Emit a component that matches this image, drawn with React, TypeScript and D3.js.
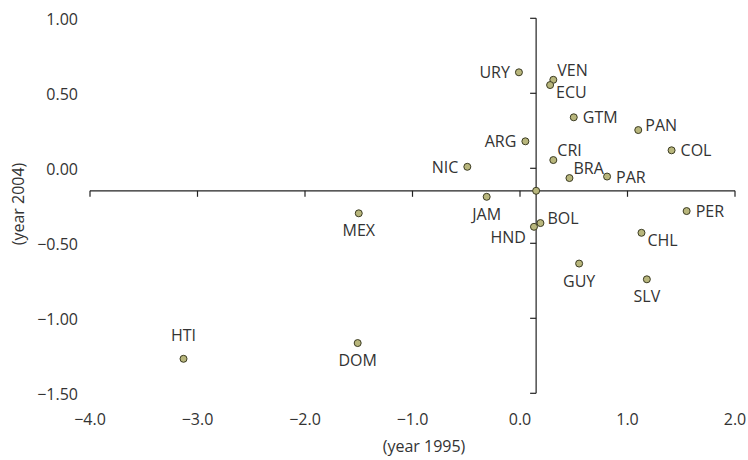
import * as d3 from 'd3';
import { useEffect, useRef } from 'react';

const countries = ['URY', 'VEN', 'ECU', 'GTM', 'PAN', 'ARG', 'COL', 'CRI', 'NIC', 'BRA', 'PAR', '', 'JAM', 'MEX', 'PER', 'BOL', 'HND', 'CHL', 'GUY', 'SLV', 'HTI', 'DOM'];
const year1995 = [-0.01, 0.31, 0.28, 0.50, 1.10, 0.05, 1.41, 0.31, -0.49, 0.46, 0.81, 0.15, -0.31, -1.50, 1.55, 0.19, 0.13, 1.13, 0.55, 1.18, -3.13, -1.51];
const year2004 = [0.64, 0.59, 0.555, 0.34, 0.255, 0.18, 0.12, 0.055, 0.01, -0.065, -0.055, -0.15, -0.19, -0.30, -0.285, -0.365, -0.39, -0.43, -0.635, -0.74, -1.27, -1.165];

const xTicks = [-4, -3, -2, -1, 0, 1, 2];
const yTicks = [1, 0.5, 0, -0.5, -1, -1.5];

// where each label sits relative to its dot
const placement: Record<string, string> = {
    URY: 'l', VEN: 'ur', ECU: 'lr', GTM: 'r', PAN: 'ru', ARG: 'l', COL: 'r', CRI: 'ur',
    NIC: 'l', BRA: 'ur', PAR: 'r', JAM: 'b', MEX: 'b', PER: 'r', BOL: 'ru', HND: 'll',
    CHL: 'lr', GUY: 'b', SLV: 'b', HTI: 't', DOM: 'b',
};

const width = 748;
const height = 460;
const font = '"Open Sans", "DejaVu Sans", sans-serif';
const ink = '#333';

function App() {
    const ref = useRef<SVGSVGElement>(null);

    useEffect(() => {
        const svg = d3.select(ref.current);
        svg.selectAll('*').remove();

        const x = d3.scaleLinear().domain([-4, 2]).range([90, 735]);
        const y = d3.scaleLinear().domain([-1.5, 1]).range([393.3, 18.3]);
        const cx = 0.15; // vertical axis crosses at this x
        const cy = -0.15; // horizontal axis crosses at this y

        // horizontal axis
        const gx = svg.append('g').attr('transform', `translate(0,${y(cy)})`);
        gx.append('line').attr('x1', x(-4)).attr('x2', x(2)).attr('stroke', '#222').attr('stroke-width', 1.2);
        gx.selectAll('line.t').data(xTicks).enter().append('line')
            .attr('class', 't')
            .attr('x1', d => x(d)).attr('x2', d => x(d))
            .attr('y1', 0).attr('y2', 6)
            .attr('stroke', '#222').attr('stroke-width', 1.2);

        // vertical axis
        const gy = svg.append('g').attr('transform', `translate(${x(cx)},0)`);
        gy.append('line').attr('y1', y(1)).attr('y2', y(-1.5)).attr('stroke', '#222').attr('stroke-width', 1.2);
        gy.selectAll('line.t').data(yTicks).enter().append('line')
            .attr('class', 't')
            .attr('y1', d => y(d)).attr('y2', d => y(d))
            .attr('x1', -6).attr('x2', 0)
            .attr('stroke', '#222').attr('stroke-width', 1.2);

        // tick labels
        svg.append('g').selectAll('text').data(xTicks).enter().append('text')
            .attr('x', d => x(d))
            .attr('y', 425)
            .attr('text-anchor', 'middle')
            .attr('font-family', font).attr('font-size', 16).attr('fill', ink)
            .text(d => d3.format('.1f')(d));

        svg.append('g').selectAll('text').data(yTicks).enter().append('text')
            .attr('x', 78)
            .attr('y', d => y(d) + 7)
            .attr('text-anchor', 'end')
            .attr('font-family', font).attr('font-size', 16).attr('fill', ink)
            .text(d => d3.format('.2f')(d));

        // axis titles
        svg.append('text')
            .attr('x', 424).attr('y', 452)
            .attr('text-anchor', 'middle')
            .attr('font-family', font).attr('font-size', 16).attr('fill', ink)
            .text('(year 1995)');
        svg.append('text')
            .attr('transform', `translate(24,204) rotate(-90)`)
            .attr('text-anchor', 'middle')
            .attr('font-family', font).attr('font-size', 16).attr('fill', ink)
            .text('(year 2004)');

        const data = countries.map((c, i) => ({ c, vx: year1995[i], vy: year2004[i] }));

        svg.append('g').selectAll('circle').data(data).enter().append('circle')
            .attr('cx', d => x(d.vx))
            .attr('cy', d => y(d.vy))
            .attr('r', 3.5)
            .attr('fill', '#b8b67c')
            .attr('stroke', '#3b3b22')
            .attr('stroke-width', 1);

        const offset = (p: string) => {
            switch (p) {
                case 'l': return { dx: -9, dy: 6, a: 'end' };
                case 'r': return { dx: 9, dy: 6, a: 'start' };
                case 'ru': return { dx: 7, dy: 1, a: 'start' };
                case 'ur': return { dx: 4, dy: -4, a: 'start' };
                case 'lr': return { dx: 6, dy: 13, a: 'start' };
                case 'll': return { dx: -8, dy: 16, a: 'end' };
                case 't': return { dx: 0, dy: -18, a: 'middle' };
                default: return { dx: 0, dy: 23, a: 'middle' };
            }
        };

        svg.append('g').selectAll('text').data(data.filter(d => d.c)).enter().append('text')
            .each(function (d) {
                const o = offset(placement[d.c]);
                d3.select(this)
                    .attr('x', x(d.vx) + o.dx)
                    .attr('y', y(d.vy) + o.dy)
                    .attr('text-anchor', o.a);
            })
            .attr('font-family', font).attr('font-size', 16).attr('fill', ink)
            .text(d => d.c);
    }, []);

    return <svg ref={ref} width={width} height={height}
        style={{ position: 'absolute', left: 0, top: 0, background: '#fff' }} />;
}

export default App;
